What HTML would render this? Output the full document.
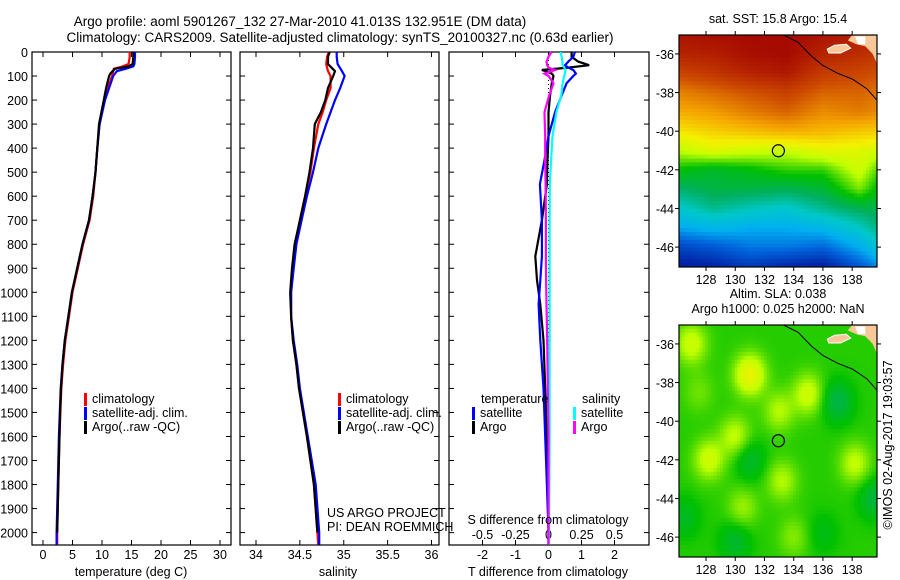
<!DOCTYPE html>
<html><head><meta charset="utf-8">
<style>
html,body{margin:0;padding:0;background:#fff;}
svg{display:block;font-family:"Liberation Sans",sans-serif;}
text{font-size:12.5px;fill:#000;}
</style></head>
<body>
<svg id="fig" width="900" height="580" viewBox="0 0 900 580" xmlns="http://www.w3.org/2000/svg">
<defs>
<clipPath id="clipA"><rect x="679" y="35" width="198" height="232"/></clipPath>
<clipPath id="clipB"><rect x="679" y="325" width="198" height="232"/></clipPath>
</defs>
<rect width="900" height="580" fill="#fff"/>
<text x="300" y="26" text-anchor="middle" style="font-size:13.5px">Argo profile: aoml 5901267_132 27-Mar-2010 41.013S 132.951E (DM data)</text>
<text x="340" y="42" text-anchor="middle" style="font-size:13.5px">Climatology: CARS2009. Satellite-adjusted climatology: synTS_20100327.nc (0.63d earlier)</text>
<g id="g"></g>
</svg>
<script>
// ---- Temperature panel data ----
const tDepth=[0,20,50,60,70,80,90,100,150,200,300,400,500,600,700,800,900,1000,1100,1200,1300,1400,1500,1600,1800,2000,2050];
const tArgo=[15.3,15.3,15.2,14.5,12.2,11.8,11.4,11.2,10.7,10.3,9.5,9.2,8.9,8.4,7.8,6.7,5.8,4.9,4.3,3.7,3.3,3.05,2.9,2.8,2.6,2.4,2.4];
const tClim=[14.7,14.7,14.5,13.5,12.0,11.9,11.8,11.7,11.0,10.4,9.6,9.2,8.9,8.5,7.9,6.8,5.9,5.0,4.4,3.8,3.4,3.1,2.95,2.8,2.6,2.4,2.4];
const tSat=[15.6,15.6,15.5,15.3,14.0,12.5,12.2,11.9,11.2,10.5,9.6,9.2,8.9,8.4,7.8,6.7,5.8,4.9,4.3,3.7,3.3,3.0,2.85,2.7,2.5,2.3,2.3];
const tTicks=[0,5,10,15,20,25,30];
// ---- Salinity panel data ----
const sDepth=[0,20,50,80,100,150,200,250,300,400,500,600,700,800,900,1000,1100,1200,1300,1400,1600,1800,2000,2050];
const sArgo=[34.84,34.82,34.82,34.90,34.88,34.82,34.79,34.74,34.67,34.65,34.61,34.56,34.50,34.44,34.41,34.39,34.40,34.42,34.46,34.49,34.58,34.66,34.70,34.70];
const sClim=[34.83,34.81,34.80,34.82,34.85,34.85,34.80,34.76,34.71,34.66,34.62,34.56,34.50,34.45,34.42,34.40,34.40,34.42,34.46,34.49,34.58,34.66,34.70,34.71];
const sSat=[34.92,34.92,34.93,34.98,35.01,34.96,34.90,34.85,34.80,34.71,34.65,34.58,34.52,34.46,34.43,34.40,34.40,34.43,34.47,34.50,34.59,34.68,34.72,34.72];
const sTicks=[34,34.5,35,35.5,36];
// ---- Difference panel data ----
const dDepth=[0,20,40,55,65,75,90,100,130,180,250,350,450,550,700,850,950,1050,1200,1400,1600,1800,2000,2050];
const dTArgo=[0.7,0.7,0.9,1.23,0.6,-0.2,0.1,0.15,0.1,0.05,0.0,0.0,-0.03,-0.05,-0.2,-0.4,-0.35,-0.25,-0.15,-0.1,-0.05,0,0,0];
const dTSat=[0.8,0.75,0.6,0.5,0.6,0.75,0.83,0.75,0.55,0.4,0.2,0.0,-0.12,-0.26,-0.2,-0.2,-0.25,-0.3,-0.25,-0.15,-0.1,-0.05,0,0];
const dSSat=[0.09,0.1,0.105,0.107,0.12,0.128,0.125,0.12,0.107,0.097,0.06,0.03,0.02,0.01,0.008,0.008,0.008,0.008,0.008,0.008,0.008,0.006,0.004,0.004];
const dSArgo=[0.023,0.0,-0.015,-0.01,0.0,0.05,-0.03,0.0,0.038,0.005,-0.03,-0.025,-0.025,-0.022,-0.02,-0.02,-0.018,-0.015,-0.01,-0.005,0,0,0,0];
const dTTicks=[-2,-1,0,1,2];
const dSTicks=[-0.5,-0.25,0,0.25,0.5];
const depthTicks=[0,100,200,300,400,500,600,700,800,900,1000,1100,1200,1300,1400,1500,1600,1700,1800,1900,2000];
// ---- Map data: SST coarse grid (rows lat -35..-47, cols lon) normalized colour index ----
const sstLons=[126,128.5,131,133.5,136,138.5,140];
const sstLats=[-35,-36,-37,-38,-39,-40,-41,-42,-43,-44,-45,-46,-47];
const sstGrid=[
[0.96,0.97,0.98,0.98,0.96,0.94,0.92],
[0.93,0.94,0.97,0.98,0.93,0.91,0.89],
[0.86,0.89,0.93,0.95,0.88,0.86,0.84],
[0.78,0.81,0.84,0.87,0.82,0.82,0.8],
[0.73,0.75,0.79,0.82,0.77,0.79,0.77],
[0.66,0.69,0.71,0.73,0.72,0.7,0.69],
[0.58,0.62,0.6,0.59,0.63,0.62,0.6],
[0.5,0.47,0.49,0.52,0.52,0.6,0.52],
[0.42,0.45,0.45,0.44,0.46,0.55,0.48],
[0.35,0.4,0.37,0.35,0.4,0.44,0.45],
[0.27,0.3,0.28,0.28,0.3,0.36,0.42],
[0.15,0.18,0.22,0.22,0.2,0.28,0.35],
[0.07,0.09,0.13,0.1,0.08,0.18,0.25]];
// SLA anomaly blobs: lon, lat, amplitude
const slaLon=[127,131,135,133,130,128.2,138.2,133.2,130.5,134,137,131,126.5,130,139.5,136,127.5];
const slaLat=[-36,-37.6,-38.6,-39.5,-40.8,-42,-42.2,-43.1,-44.5,-46,-39,-42,-45,-46.2,-44,-45.8,-38.5];
const slaAmp=[0.08,0.12,0.08,0.06,0.07,0.08,0.07,0.06,0.05,0.04,-0.07,-0.05,-0.04,-0.05,-0.06,-0.03,0.03];
const probeLon=132.951, probeLat=-41.013;

const NS='http://www.w3.org/2000/svg';
const G=document.getElementById('g');
function el(tag,attrs,parent){const e=document.createElementNS(NS,tag);for(const k in attrs)e.setAttribute(k,attrs[k]);(parent||G).appendChild(e);return e;}
function txt(s,x,y,anchor,parent,size){const t=el('text',{x:x,y:y,'text-anchor':anchor||'start'},parent);if(size)t.style.fontSize=size+'px';t.textContent=s;return t;}

const TOP=52, BOT=545;
const yD=d=>TOP+d*0.2403;
function lin(d0,d1,r0,r1){return v=>r0+(v-d0)*(r1-r0)/(d1-d0);}

function panel(name,x0,x1,xs,ticks,tickFmt,labelY){
  const g=el('g',{});
  
  
  el('rect',{x:x0,y:TOP,width:x1-x0,height:BOT-TOP,fill:'none',stroke:'#000','stroke-width':1.2},g);
  depthTicks.forEach(d=>{const y=yD(d);
    el('line',{x1:x0,x2:x0+5,y1:y,y2:y,stroke:'#000'},g);
    el('line',{x1:x1,x2:x1-5,y1:y,y2:y,stroke:'#000'},g);});
  if(xs){ticks.forEach(v=>{const x=xs(v);
    el('line',{x1:x,x2:x,y1:TOP,y2:TOP+5,stroke:'#000'},g);
    el('line',{x1:x,x2:x,y1:BOT,y2:BOT-5,stroke:'#000'},g);
    const t=txt(tickFmt(v),x,labelY,'middle',g);
    
    });}
  return g;
}
function series(name,g,xs,depths,vals,color,w){
  const pts=depths.map((d,i)=>xs(vals[i]).toFixed(1)+','+yD(d).toFixed(1)).join(' ');
  const p=el('polyline',{points:pts,fill:'none',stroke:color,'stroke-width':w||2.2},g);
  
  
}
function legendEntry(name,g,x,y,color,label){
  const gg=el('g',{},g);
  
  
  if(color) el('rect',{x:x,y:y-10,width:3,height:13,fill:color},gg);
  txt(label,x+8,y,'start',gg);
}

// Depth axis labels
const dl=el('g',{});


depthTicks.forEach(d=>txt(String(d),28,yD(d)+5,'end',dl));

// Temperature panel
const xT=lin(0,30,43,220);
const pT=panel('temperature-panel',32,231,xT,tTicks,String,559);
series('temp-climatology-line',pT,xT,tDepth,tClim,'#ff0000');
series('temp-satellite-line',pT,xT,tDepth,tSat,'#0000ff');
series('temp-argo-line',pT,xT,tDepth.slice(0,26),tArgo.slice(0,26),'#000000');
txt('temperature (deg C)',131,576,'middle',pT);
legendEntry('legend-climatology',pT,84,403,'#ff0000','climatology');
legendEntry('legend-satellite',pT,84,417,'#0000ff','satellite-adj. clim.');
legendEntry('legend-argo',pT,84,431,'#000000','Argo(..raw -QC)');

// Salinity panel
const xS=lin(34,36,256,431.5);
const pS=panel('salinity-panel',240,439,xS,sTicks,String,559);
series('sal-climatology-line',pS,xS,sDepth,sClim,'#ff0000');
series('sal-satellite-line',pS,xS,sDepth,sSat,'#0000ff');
series('sal-argo-line',pS,xS,sDepth.slice(0,23),sArgo.slice(0,23),'#000000');
txt('salinity',338,576,'middle',pS);
legendEntry('legend-sal-climatology',pS,338,403,'#ff0000','climatology');
legendEntry('legend-sal-satellite',pS,338,417,'#0000ff','satellite-adj. clim.');
legendEntry('legend-sal-argo',pS,338,431,'#000000','Argo(..raw -QC)');
txt('US ARGO PROJECT',327,517,'start',pS);
txt('PI: DEAN ROEMMICH',327,531,'start',pS);

// Difference panel
const xDT=lin(0,2,548.5,614.5);
const xDS=lin(0,0.5,548.5,614.5);
const pD=panel('difference-panel',449,649,xDT,dTTicks,String,559);
dSTicks.forEach(v=>{const t=txt(String(v),xDS(v),539,'middle',pD);});
el('line',{x1:xDT(0),x2:xDT(0),y1:TOP,y2:BOT,stroke:'#000','stroke-dasharray':'1,3','stroke-width':1},pD);
series('diff-temp-argo-line',pD,xDT,dDepth,dTArgo,'#000000');
series('diff-temp-satellite-line',pD,xDT,dDepth,dTSat,'#0000ff');
series('diff-sal-satellite-line',pD,xDS,dDepth,dSSat,'#00ffff');
series('diff-sal-argo-line',pD,xDS,dDepth,dSArgo,'#ff00ff');
txt('S difference from climatology',548,524,'middle',pD);
txt('T difference from climatology',548,576,'middle',pD);
legendEntry('legend-temperature-header',pD,473,403,null,'temperature');
legendEntry('legend-diff-temp-sat',pD,472,417,'#0000ff','satellite');
legendEntry('legend-diff-temp-argo',pD,472,431,'#000000','Argo');
legendEntry('legend-salinity-header',pD,574,403,null,'salinity');
legendEntry('legend-diff-sal-sat',pD,573,417,'#00ffff','satellite');
legendEntry('legend-diff-sal-argo',pD,573,431,'#ff00ff','Argo');

// ---- Maps ----
const MX0=679,MX1=877,LON0=126.15,LON1=139.7,LAT0=-35.02,LAT1=-47.03;
const mx=lin(LON0,LON1,MX0,MX1);
function cmapJet(v){
  const stops=[[0,[0,0,128]],[0.1,[0,40,170]],[0.2,[0,100,220]],[0.28,[0,176,240]],[0.36,[0,200,200]],[0.43,[0,176,96]],[0.5,[0,192,0]],[0.58,[192,255,0]],[0.65,[245,240,0]],[0.74,[245,165,0]],[0.85,[205,75,0]],[1,[160,0,0]]];
  v=Math.max(0,Math.min(1,v));
  for(let i=1;i<stops.length;i++){if(v<=stops[i][0]){const a=stops[i-1],b=stops[i],f=(v-a[0])/(b[0]-a[0]);
    return 'rgb('+a[1].map((c,k)=>Math.round(c+(b[1][k]-c)*f)).join(',')+')';}}
  return 'rgb(160,0,0)';
}
function sstAt(lon,lat){
  let fi=(sstLats[0]-lat);fi=Math.max(0,Math.min(sstLats.length-1.001,fi));
  let j=0;while(j<sstLons.length-2&&lon>sstLons[j+1])j++;
  let fj=(lon-sstLons[j])/(sstLons[j+1]-sstLons[j]);fj=Math.max(0,Math.min(1,fj));
  const i=Math.floor(fi),fr=fi-i;
  const a=sstGrid[i][j]*(1-fj)+sstGrid[i][j+1]*fj, b=sstGrid[i+1][j]*(1-fj)+sstGrid[i+1][j+1]*fj;
  return a*(1-fr)+b*fr;
}
function slaAt(lon,lat){
  let v=0.515;for(let k=0;k<slaLon.length;k++){const dx=lon-slaLon[k],dy=lat-slaLat[k];v+=slaAmp[k]*Math.exp(-(dx*dx+dy*dy)/1.1);}
  return v;
}
function drawMap(name,MY0,MY1,fn,clip,title1,title2){
  const my=lin(LAT0,LAT1,MY0,MY1);
  const g=el('g',{});
  
  
  const cg=el('g',{'clip-path':'url(#'+clip+')'},g);
  const step=0.2;
  for(let lat=LAT0;lat>LAT1-0.01;lat-=step){for(let lon=LON0;lon<LON1;lon+=step){
    const x=mx(lon),y=my(lat);
    el('rect',{x:x.toFixed(2),y:y.toFixed(2),width:(mx(lon+step)-x+0.4).toFixed(2),height:(my(lat-step)-y+0.4).toFixed(2),fill:fn(lon+step/2,lat-step/2)},cg);}}
  // land
  const P=a=>a.map(p=>mx(p[0]).toFixed(1)+','+my(p[1]).toFixed(1)).join(' ');
  el('polygon',{points:P([[136.3,-35.75],[136.8,-35.55],[137.6,-35.5],[137.9,-35.7],[137.2,-35.95],[136.4,-35.95]]),fill:'#f8c898',stroke:'#fff','stroke-width':1},cg);
  el('polygon',{points:P([[138.0,-35.02],[139.7,-35.02],[139.7,-36.5],[139.4,-36.0],[138.9,-35.6],[138.3,-35.5],[137.7,-35.3]]),fill:'#f8c898'},cg);
  el('polygon',{points:P([[138.2,-35.1],[138.9,-35.1],[138.9,-35.5],[138.4,-35.5]]),fill:'#fff'},cg);
  el('polyline',{points:P([[133.3,-35.02],[134.3,-35.4],[135.2,-36.1],[136.0,-36.6],[137.0,-37.0],[138.0,-37.3],[139.0,-37.8],[139.7,-38.4]]),fill:'none',stroke:'#000','stroke-width':1},cg);
  el('rect',{x:MX0,y:MY0,width:MX1-MX0,height:MY1-MY0,fill:'none',stroke:'#000','stroke-width':1.2},g);
  const c=el('circle',{cx:mx(probeLon),cy:my(probeLat),r:6,fill:'none',stroke:'#000','stroke-width':1.2},g);
  
  
  [-36,-38,-40,-42,-44,-46].forEach(l=>{const y=my(l);
    el('line',{x1:MX0-4,x2:MX0,y1:y,y2:y,stroke:'#000'},g);el('line',{x1:MX1,x2:MX1+4,y1:y,y2:y,stroke:'#000'},g);
    txt(String(l),674,y+5,'end',g);});
  [128,130,132,134,136,138].forEach(l=>{const x=mx(l);
    el('line',{x1:x,x2:x,y1:MY0-4,y2:MY0,stroke:'#000'},g);el('line',{x1:x,x2:x,y1:MY1,y2:MY1+4,stroke:'#000'},g);
    txt(String(l),x,MY1+17,'middle',g);});
  txt(title1,778,title2?MY0-27:MY0-12,'middle',g);
  if(title2)txt(title2,778,MY0-12,'middle',g);
}
drawMap('sst-map',35,267,(lo,la)=>cmapJet(sstAt(lo,la)),'clipA','sat. SST: 15.8 Argo: 15.4');
drawMap('sla-map',325,557,(lo,la)=>cmapJet(slaAt(lo,la)),'clipB','Altim. SLA: 0.038','Argo h1000: 0.025 h2000: NaN');
const ts=txt('©IMOS 02-Aug-2017 19:03:57',0,0,'middle');
ts.setAttribute('transform','translate(892,445) rotate(-90)');


</script>
</body></html>
